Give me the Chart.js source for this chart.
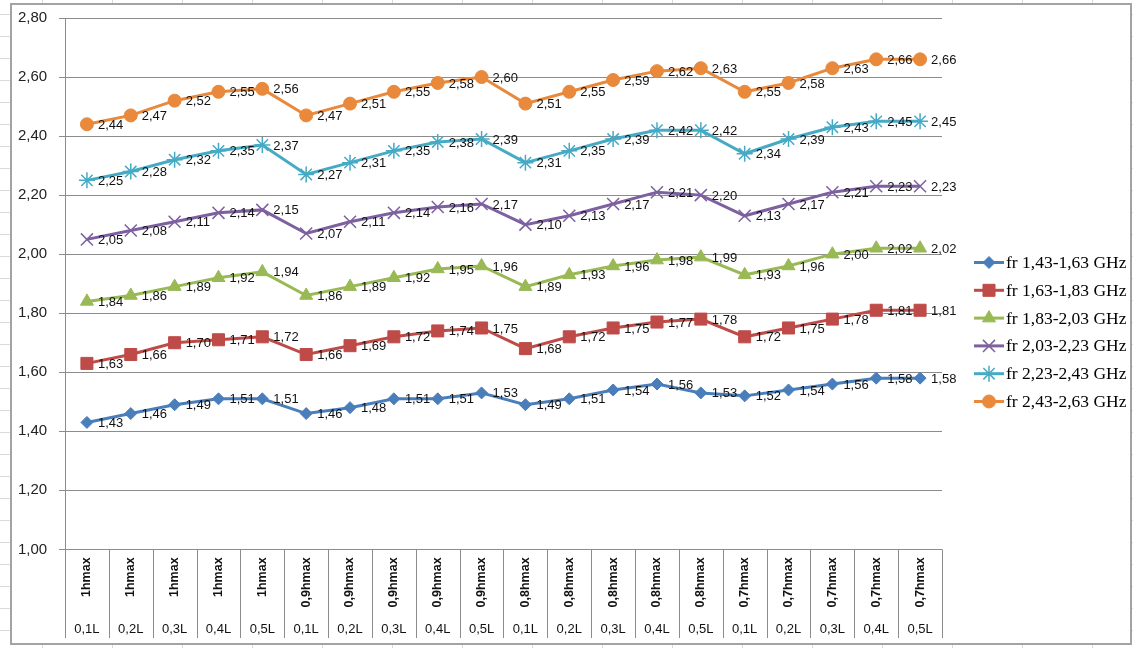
<!DOCTYPE html>
<html>
<head>
<meta charset="utf-8">
<script src="https://cdn.jsdelivr.net/npm/chart.js@4.4.0/dist/chart.umd.min.js"></script>
<style>
body {
    margin: 0;
    width: 1133px;
    height: 648px;
    background-color: #fff;
    background-image:
        repeating-linear-gradient(90deg, transparent 0, transparent 42px, #d9dadb 42px, #d9dadb 43px, transparent 43px, transparent 70px),
        repeating-linear-gradient(180deg, transparent 0, transparent 14px, #d9dadb 14px, #d9dadb 15px, transparent 15px, transparent 22px);
    overflow: hidden;
}
#wrap {
    position: absolute;
    left: 10px;
    top: 3px;
    width: 1118px;
    height: 638px;
    border: 2px solid #a3a3a3;
    background: #fff;
}
</style>
</head>
<body>
<div id="wrap"><canvas id="graf"></canvas></div>
<script>
// categorias (dois niveis)
var hLabels = ['1hmax', '1hmax', '1hmax', '1hmax', '1hmax',
    '0,9hmax', '0,9hmax', '0,9hmax', '0,9hmax', '0,9hmax',
    '0,8hmax', '0,8hmax', '0,8hmax', '0,8hmax', '0,8hmax',
    '0,7hmax', '0,7hmax', '0,7hmax', '0,7hmax', '0,7hmax'];
var lLabels = ['0,1L', '0,2L', '0,3L', '0,4L', '0,5L',
    '0,1L', '0,2L', '0,3L', '0,4L', '0,5L',
    '0,1L', '0,2L', '0,3L', '0,4L', '0,5L',
    '0,1L', '0,2L', '0,3L', '0,4L', '0,5L'];

var seriesNames = ['fr 1,43-1,63 GHz', 'fr 1,63-1,83 GHz', 'fr 1,83-2,03 GHz',
    'fr 2,03-2,23 GHz', 'fr 2,23-2,43 GHz', 'fr 2,43-2,63 GHz'];

var fr1 = [1.43, 1.46, 1.49, 1.51, 1.51, 1.46, 1.48, 1.51, 1.51, 1.53, 1.49, 1.51, 1.54, 1.56, 1.53, 1.52, 1.54, 1.56, 1.58, 1.58];
var fr2 = [1.63, 1.66, 1.70, 1.71, 1.72, 1.66, 1.69, 1.72, 1.74, 1.75, 1.68, 1.72, 1.75, 1.77, 1.78, 1.72, 1.75, 1.78, 1.81, 1.81];
var fr3 = [1.84, 1.86, 1.89, 1.92, 1.94, 1.86, 1.89, 1.92, 1.95, 1.96, 1.89, 1.93, 1.96, 1.98, 1.99, 1.93, 1.96, 2.00, 2.02, 2.02];
var fr4 = [2.05, 2.08, 2.11, 2.14, 2.15, 2.07, 2.11, 2.14, 2.16, 2.17, 2.10, 2.13, 2.17, 2.21, 2.20, 2.13, 2.17, 2.21, 2.23, 2.23];
var fr5 = [2.25, 2.28, 2.32, 2.35, 2.37, 2.27, 2.31, 2.35, 2.38, 2.39, 2.31, 2.35, 2.39, 2.42, 2.42, 2.34, 2.39, 2.43, 2.45, 2.45];
var fr6 = [2.44, 2.47, 2.52, 2.55, 2.56, 2.47, 2.51, 2.55, 2.58, 2.60, 2.51, 2.55, 2.59, 2.62, 2.63, 2.55, 2.58, 2.63, 2.66, 2.66];

var yMin = 1.0, yMax = 2.8, yStep = 0.2;

function virgula(v) {
    return Number(v).toFixed(2).replace('.', ',');
}

function serie(label, data, cor, estilo, raio, borda) {
    return {
        label: label,
        data: data,
        fill: false,
        borderColor: cor,
        backgroundColor: cor,
        borderWidth: 3,
        pointStyle: estilo,
        pointRadius: raio,
        pointHoverRadius: raio,
        pointBackgroundColor: cor,
        pointBorderColor: cor,
        pointBorderWidth: borda,
        tension: 0
    };
}

// rotulos de dados a direita de cada ponto
var rotulos = {
    id: 'rotulos',
    afterDatasetsDraw: function (chart) {
        var ctx = chart.ctx;
        ctx.save();
        ctx.font = '13px "Liberation Sans"';
        ctx.fillStyle = '#111';
        ctx.textAlign = 'left';
        ctx.textBaseline = 'middle';
        chart.data.datasets.forEach(function (ds, i) {
            chart.getDatasetMeta(i).data.forEach(function (pt, j) {
                ctx.fillText(virgula(ds.data[j]), pt.x + 11, pt.y + 1);
            });
        });
        ctx.restore();
    }
};

// linhas separadoras do eixo de categorias
var separadores = {
    id: 'separadores',
    afterDraw: function (chart) {
        var x = chart.scales.x, x2 = chart.scales.x2;
        var meio = (x.getPixelForValue(1) - x.getPixelForValue(0)) / 2;
        var ctx = chart.ctx;
        ctx.save();
        ctx.strokeStyle = '#8c8c8c';
        ctx.lineWidth = 1;
        for (var i = 0; i <= hLabels.length; i++) {
            var px = Math.round(x.getPixelForValue(i) - meio) + 0.5;
            ctx.beginPath();
            ctx.moveTo(px, chart.chartArea.bottom);
            ctx.lineTo(px, x2.bottom - 5);
            ctx.stroke();
        }
        ctx.restore();
    }
};

// legenda com linha + marcador
var legenda = {
    id: 'legenda',
    afterDraw: function (chart) {
        var ctx = chart.ctx;
        var n = chart.data.datasets.length;
        var passo = 27.8;
        var y0 = chart.height / 2 + 8 - passo * (n - 1) / 2;
        var x0 = chart.chartArea.right + 32;
        ctx.save();
        chart.data.datasets.forEach(function (ds, i) {
            var y = y0 + i * passo;
            ctx.strokeStyle = ds.borderColor;
            ctx.lineWidth = ds.borderWidth;
            ctx.beginPath();
            ctx.moveTo(x0, y);
            ctx.lineTo(x0 + 30, y);
            ctx.stroke();
            ctx.fillStyle = ds.pointBackgroundColor;
            ctx.strokeStyle = ds.pointBorderColor;
            ctx.lineWidth = ds.pointBorderWidth;
            Chart.helpers.drawPoint(ctx, {
                pointStyle: ds.pointStyle,
                radius: ds.pointRadius,
                borderWidth: ds.pointBorderWidth,
                rotation: 0
            }, x0 + 15, y);
            ctx.fillStyle = '#000';
            ctx.font = '17.5px "Liberation Serif"';
            ctx.textAlign = 'left';
            ctx.textBaseline = 'middle';
            ctx.fillText(ds.label, x0 + 32, y + 1);
        });
        ctx.restore();
    }
};

var graf = new Chart(document.getElementById('graf'), {
    type: 'line',
    data: {
        labels: hLabels,
        datasets: [
            serie(seriesNames[0], fr1, '#4a7ebb', 'rectRot', 6, 1),
            serie(seriesNames[1], fr2, '#be4b48', 'rect', 8.5, 1),
            serie(seriesNames[2], fr3, '#98b954', 'triangle', 7.5, 1),
            serie(seriesNames[3], fr4, '#7d60a0', 'crossRot', 8.5, 1.5),
            serie(seriesNames[4], fr5, '#46aac5', 'star', 8, 1.5),
            serie(seriesNames[5], fr6, '#e8893b', 'circle', 6.5, 1)
        ]
    },
    plugins: [rotulos, separadores, legenda],
    options: {
        responsive: true,
        maintainAspectRatio: false,
        animation: false,
        layout: {
            padding: { left: 6, right: 188, top: 8, bottom: 0 }
        },
        plugins: {
            legend: { display: false },
            tooltip: { enabled: false }
        },
        scales: {
            y: {
                min: yMin,
                max: yMax,
                afterFit: function (scale) { scale.width = 47; },
                ticks: {
                    stepSize: yStep,
                    padding: 4,
                    crossAlign: 'far',
                    color: '#222',
                    font: { family: 'Liberation Sans', size: 15 },
                    callback: function (v) { return virgula(v); }
                },
                grid: { color: '#8c8c8c', lineWidth: 1, tickLength: 6 },
                border: { color: '#8c8c8c' }
            },
            x: {
                type: 'category',
                position: 'bottom',
                offset: true,
                grid: { display: false, drawTicks: false },
                border: { display: false },
                ticks: {
                    autoSkip: false,
                    minRotation: 90,
                    maxRotation: 90,
                    padding: 8,
                    color: '#111',
                    font: { family: 'Liberation Sans', size: 12.5, weight: 'bold' }
                }
            },
            x2: {
                type: 'category',
                position: 'bottom',
                labels: lLabels,
                offset: true,
                grid: { display: false, drawTicks: false },
                border: { display: false },
                ticks: {
                    autoSkip: false,
                    maxRotation: 0,
                    padding: 6,
                    color: '#111',
                    font: { family: 'Liberation Sans', size: 13 }
                }
            }
        }
    }
});
</script>
</body>
</html>
